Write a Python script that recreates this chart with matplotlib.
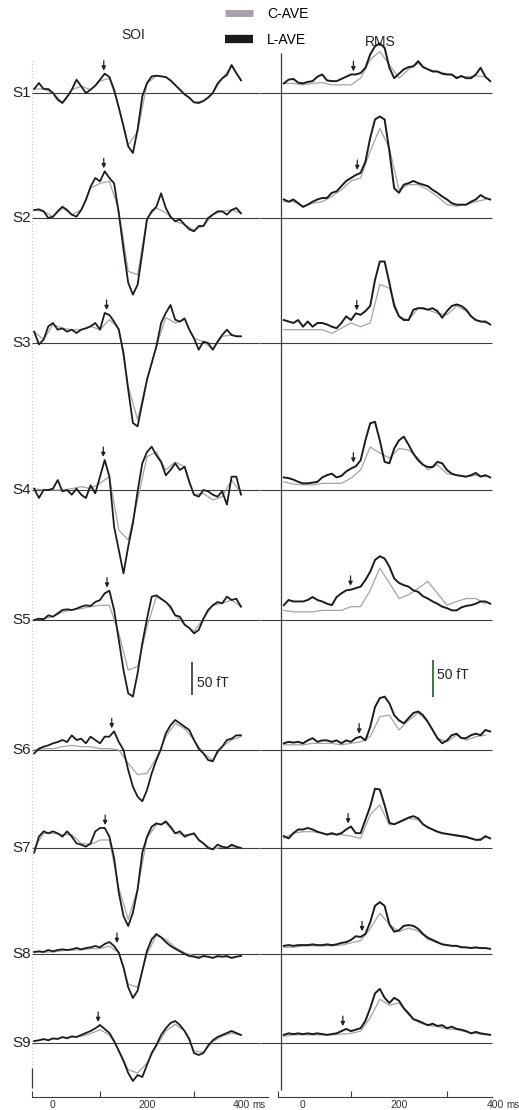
import numpy as np
import matplotlib
matplotlib.use('Agg')
import matplotlib.pyplot as plt
from matplotlib.lines import Line2D
from matplotlib.ticker import FixedLocator

plt.rcParams['font.family'] = ['Liberation Sans', 'DejaVu Sans']

# ---------------- data ----------------
subjects = ['S1', 'S2', 'S3', 'S4', 'S5', 'S6', 'S7', 'S8', 'S9']
series_labels = ['C-AVE', 'L-AVE']
panel_titles = ['SOI', 'RMS']

t_soi = list(range(-40, 401, 10))      # ms, L-AVE SOI samples
t_soi_c = list(range(-40, 401, 20))    # ms, C-AVE SOI samples
t_rms = list(range(-40, 391, 10))      # ms, L-AVE RMS samples
t_rms_c = list(range(-40, 381, 20))    # ms, C-AVE RMS samples

# SOI waveforms, L-AVE (fT)
soi_lave = [
    [6,15,6,6,0,-10,-15,-6,5,20,10,0,5,11,20,29,24,5,-22,-50,-80,-90,-55,-5,15,25,26,25,24,19,12,5,-2,-7,-14,-15,-12,-7,0,14,22,27,42,30,19],
    [12,13,10,0,2,10,17,12,5,2,12,27,47,60,55,70,60,52,7,-47,-97,-115,-100,-52,-2,10,17,37,15,2,-5,-2,-10,-17,-20,-12,-12,0,5,10,10,5,12,15,7],
    [17,-2,5,25,30,20,22,17,20,15,20,22,25,30,20,45,42,32,20,-15,-70,-120,-125,-90,-55,-30,-5,30,45,57,35,32,37,20,7,-10,2,0,-10,2,12,20,12,10,10],
    [2,-12,0,0,2,15,-2,0,-7,2,-7,-12,7,-5,20,45,20,-55,-90,-125,-85,-50,-2,40,57,65,52,42,22,30,40,30,35,12,-7,-10,0,-2,-7,-10,-2,-22,20,20,-7],
    [0,2,1,7,5,10,15,16,15,17,20,22,21,27,30,40,44,15,-30,-75,-110,-115,-80,-35,2,35,37,32,27,20,7,5,-7,-12,-20,-15,2,15,22,27,25,35,30,32,20],
    [-5,2,5,7,10,12,15,12,22,15,17,10,20,15,10,20,20,28,12,0,-30,-55,-70,-77,-60,-35,-15,2,25,37,45,40,35,30,15,2,-5,-15,-17,-2,5,15,17,22,22],
    [-7,17,25,22,25,22,17,25,17,7,5,2,7,25,30,30,17,-15,-67,-102,-117,-97,-62,-7,17,32,37,35,40,32,22,25,17,20,22,12,7,0,-2,5,2,0,5,2,0],
    [3,4,3,6,4,6,7,6,7,9,7,9,10,12,10,15,18,12,2,-20,-50,-66,-55,-25,5,22,30,25,18,12,8,4,0,-3,-4,-6,-3,-4,-6,-3,-4,-3,-6,-4,-3],
    [3,4,6,4,7,6,9,7,10,9,12,15,18,22,27,21,15,3,-12,-27,-45,-57,-48,-51,-33,-15,-3,12,22,30,33,27,18,6,-15,-18,-15,-4,4,9,12,15,18,15,12],
]
# SOI waveforms, C-AVE (fT)
soi_cave = [
    [6,6,0,-14,5,10,5,18,22,-20,-78,-58,14,26,24,12,-2,-14,-12,0,22,40,19],
    [12,10,2,15,5,12,45,52,55,12,-80,-85,0,15,8,-5,-10,-18,-12,5,10,12,7],
    [17,5,28,22,20,20,25,20,35,22,-65,-115,-55,-5,38,30,35,7,2,-10,10,12,10],
    [2,0,0,0,2,5,2,10,20,-60,-75,-15,50,57,30,42,35,-7,-5,-15,-10,15,-5],
    [0,2,5,12,15,17,20,22,22,-20,-75,-70,-10,35,27,7,-7,-17,2,22,25,30,20],
    [0,2,2,5,7,5,5,2,2,0,-20,-37,-35,-12,20,40,32,15,-5,-15,5,15,20],
    [0,22,22,20,20,7,5,12,12,-60,-107,-62,15,35,37,22,20,20,7,-2,2,2,0],
    [3,3,3,5,6,6,8,8,12,2,-45,-50,0,28,22,10,2,-3,-4,-5,-4,-5,-3],
    [3,5,6,8,9,10,14,20,12,-10,-40,-45,-30,-5,18,28,18,-12,-14,2,10,15,12],
]
# RMS waveforms, L-AVE (fT)
rms_lave = [
    [13,18,19,14,13,15,16,22,25,17,16,16,19,22,25,25,27,34,52,63,67,61,34,20,26,32,35,36,43,35,32,29,29,26,25,25,20,23,20,20,25,34,22,16],
    [25,22,25,20,15,18,22,25,27,27,34,36,43,50,54,58,61,76,108,133,137,133,90,40,34,45,47,50,47,45,43,38,34,29,25,20,18,18,18,22,25,31,27,25],
    [31,29,27,31,22,29,22,27,27,25,22,20,27,36,31,40,38,43,50,85,110,110,81,50,36,31,31,45,47,47,45,47,43,34,43,50,52,50,45,36,31,29,29,25],
    [17,16,14,11,9,9,10,11,17,20,22,17,19,25,29,32,40,67,90,92,67,38,36,56,67,72,61,49,40,34,31,31,38,36,27,22,20,19,18,20,23,18,20,17],
    [20,27,25,25,25,27,31,27,25,22,20,31,36,40,41,43,45,54,65,81,86,83,72,56,50,47,45,40,38,32,29,25,22,18,16,13,13,17,19,20,22,25,25,22],
    [9,11,10,11,9,13,16,11,13,13,11,13,9,13,11,16,18,13,31,58,70,72,63,47,40,36,43,50,52,47,38,27,16,9,13,20,22,16,16,20,22,20,27,25],
    [16,13,20,25,25,27,25,22,20,18,20,18,20,25,29,20,20,38,56,80,79,58,34,32,35,38,41,43,40,32,28,25,22,20,19,18,17,16,15,13,11,11,16,13],
    [11,12,11,12,12,12,13,12,12,13,12,13,15,16,19,24,23,27,43,65,70,65,40,30,32,38,39,38,34,27,22,19,16,13,12,11,11,9,9,8,9,8,8,7],
    [11,13,12,13,12,13,12,13,12,11,12,13,16,19,16,18,20,30,47,67,73,61,54,61,57,47,40,32,30,27,24,26,23,24,20,22,19,18,16,13,15,13,12,11],
]
# RMS waveforms, C-AVE (fT)
rms_cave = [
    [13,13,11,13,14,11,11,11,20,45,56,38,20,32,40,32,29,26,22,22,23,22],
    [22,22,16,20,22,29,38,50,54,90,121,94,38,45,45,38,29,18,16,18,22,25],
    [18,18,18,18,18,13,20,27,22,27,79,74,36,31,47,45,40,38,50,43,31,27],
    [11,8,7,7,9,9,9,16,27,58,50,43,56,54,43,27,34,22,20,18,20,18],
    [13,11,11,11,13,13,13,18,18,40,70,50,29,34,43,52,36,20,25,29,29,22],
    [7,7,7,9,9,9,7,9,11,18,45,47,27,40,50,38,16,11,20,13,18,20],
    [13,20,22,22,20,18,18,16,13,45,58,31,34,40,38,27,22,19,16,14,11,14],
    [9,9,11,11,11,11,12,15,18,34,55,40,30,35,31,20,15,12,11,9,8,8],
    [9,11,11,11,11,11,12,13,16,34,59,51,54,38,28,24,22,19,18,15,13,11],
]
# latency markers (ms)
arrow_soi = [108, 108, 114, 107, 115, 125, 111, 136, 96]
arrow_rms = [105, 113, 112, 105, 99, 117, 94, 123, 83]
scale_ft = 50
x_ticks = [0, 200, 400]
x_ticklabels = ['0', '200', '400']

# ---------------- layout ----------------
W, H = 519, 1110
base_px = [93, 218, 343, 490, 620, 750, 848, 954, 1043]
axis_px = 1097
ppf_l = 2.0 / 3.0      # px per fT, SOI column
ppf_r = 0.741          # px per fT, RMS column
BLACK = '#1c1c1c'
GRAY = '#aa9fae'
LINE = '#3c3c3c'

fig = plt.figure(figsize=(W / 100, H / 100), dpi=100)
fig.patch.set_facecolor('white')

ax_l = fig.add_axes([0, 0, 260 / W, 1])
ax_r = fig.add_axes([260 / W, 0, 259 / W, 1])
ax_l.set_xlim((0 - 53) / 0.47, (260 - 53) / 0.47)
ax_r.set_xlim((260 - 303) / 0.48, (519 - 303) / 0.48)
ax_l.set_ylim(0, H / ppf_l)
ax_r.set_ylim(0, H / ppf_r)

def yv(px, ppf):
    return (H - px) / ppf

for ax, ppf, tk_minor, bounds in [(ax_l, ppf_l, [-45, 100, 300], (-45, 457)),
                                   (ax_r, ppf_r, [-52, 100, 300], (-52, 393))]:
    ax.set_facecolor('none')
    for s in ['left', 'right', 'top']:
        ax.spines[s].set_visible(False)
    ax.spines['bottom'].set_position(('data', yv(axis_px, ppf)))
    ax.spines['bottom'].set_bounds(*bounds)
    ax.spines['bottom'].set_color(LINE)
    ax.spines['bottom'].set_linewidth(0.8)
    ax.yaxis.set_visible(False)
    ax.set_xticks(x_ticks)
    ax.set_xticklabels(x_ticklabels, fontsize=7.5, color='#333333')
    ax.xaxis.set_minor_locator(FixedLocator(tk_minor))
    ax.tick_params(axis='x', which='major', length=0, pad=2.5)
    ax.tick_params(axis='x', which='minor', length=4, direction='in', color=LINE, width=0.8)
    ax.annotate('ms', xy=(400, yv(axis_px, ppf)), xytext=(8.5, -2.5),
                textcoords='offset points', ha='left', va='top', fontsize=7.0, color='#333333')

# column frame lines
ax_l.vlines(-45, yv(1088, ppf_l), yv(58, ppf_l), colors='#c4c4c4', linestyles=(0, (1, 2)), lw=0.8)
ax_l.vlines(-45, yv(1088, ppf_l), yv(1068, ppf_l), colors=LINE, lw=0.9)
ax_r.vlines(-46, yv(1090, ppf_r), yv(53, ppf_r), colors=LINE, lw=0.9)

for i, name in enumerate(subjects):
    off_l = yv(base_px[i], ppf_l)
    off_r = yv(base_px[i], ppf_r)
    # baselines
    ax_l.hlines(off_l, -45, ax_l.get_xlim()[1], colors=LINE, lw=0.8, zorder=1)
    ax_r.hlines(off_r, ax_r.get_xlim()[0], 394, colors=LINE, lw=0.8, zorder=1)
    # traces
    ax_l.plot(t_soi_c, off_l + np.array(soi_cave[i]), color=GRAY, lw=0.9, zorder=2)
    ax_l.plot(t_soi, off_l + np.array(soi_lave[i]), color=BLACK, lw=1.3, zorder=3)
    ax_r.plot(t_rms_c, off_r + np.array(rms_cave[i]), color=GRAY, lw=0.9, zorder=2)
    ax_r.plot(t_rms, off_r + np.array(rms_lave[i]), color=BLACK, lw=1.4, zorder=3)
    # row label
    ax_l.text(-47, off_l, name, ha='right', va='center', fontsize=11, color='#222222')
    # latency arrows
    for ax, ta, tt, vals, off, ppf in [(ax_l, arrow_soi[i], t_soi, soi_lave[i], off_l, ppf_l),
                                       (ax_r, arrow_rms[i], t_rms, rms_lave[i], off_r, ppf_r)]:
        loc = np.interp(np.linspace(ta - 6, ta + 6, 13), tt, vals).max()
        tip = off + loc + 3 / ppf
        ax.annotate('', xy=(ta, tip), xytext=(ta, tip + 10 / ppf),
                    arrowprops=dict(arrowstyle='-|>', color='#222222', lw=0.9,
                                    mutation_scale=6, shrinkA=0, shrinkB=0), zorder=4)

# scale bars
y0 = yv(695, ppf_l)
ax_l.vlines(296, y0, y0 + scale_ft, colors='#333333', lw=1.2)
ax_l.text(306, y0 + scale_ft * 0.35, f'{scale_ft} fT', ha='left', va='center', fontsize=10, color='#222222')
y0r = yv(697, ppf_r)
ax_r.vlines(271, y0r, y0r + scale_ft, colors='#2e6b38', lw=1.3)
ax_r.text(279, y0r + scale_ft * 0.6, f'{scale_ft} fT', ha='left', va='center', fontsize=10, color='#222222')

# titles
fig.text(133 / W, 1 - 35 / H, panel_titles[0], ha='center', va='center', fontsize=10, color='#222222')
fig.text(380 / W, 1 - 42 / H, panel_titles[1], ha='center', va='center', fontsize=10, color='#222222')

# legend
handles = [Line2D([], [], color=GRAY, lw=5, solid_capstyle='butt'),
           Line2D([], [], color=BLACK, lw=6, solid_capstyle='butt')]
fig.legend(handles, series_labels, loc='center', bbox_to_anchor=(267 / W, 1 - 27 / H),
           frameon=False, fontsize=10, handlelength=2.0, handletextpad=1.0,
           labelspacing=0.85, borderpad=0.2)

fig.savefig('out.png', dpi=100, facecolor='white')
